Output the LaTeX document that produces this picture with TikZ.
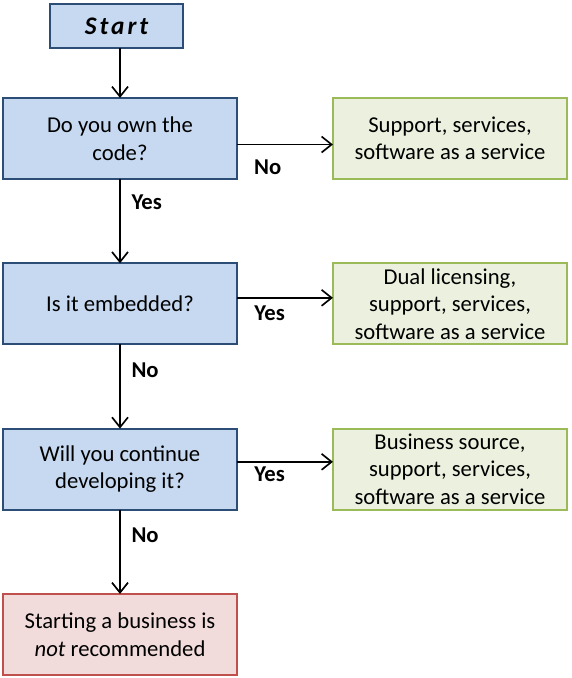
\documentclass[tikz,border=0pt]{standalone}
\usepackage{fontspec}
\setmainfont{Carlito}
\usepackage{tikz}
\usetikzlibrary{arrows.meta,positioning}

\definecolor{qfill}{HTML}{C6D9F1}
\definecolor{qdraw}{HTML}{2C4D75}
\definecolor{afill}{HTML}{EBF1DE}
\definecolor{adraw}{HTML}{9BBB59}
\definecolor{nfill}{HTML}{F2DCDB}
\definecolor{ndraw}{HTML}{C0504D}

\begin{document}
\begin{tikzpicture}[
  node distance=63.15pt and 71.9pt,
  every node/.style={font=\fontsize{17pt}{20.6pt}\selectfont},
  box/.style={line width=1.4pt,align=center,minimum width=175.6pt,minimum height=60.85pt,inner sep=0pt,outer sep=0pt},
  question/.style={box,draw=qdraw,fill=qfill},
  answer/.style={box,draw=adraw,fill=afill},
  stopnode/.style={box,draw=ndraw,fill=nfill},
  startnode/.style={draw=qdraw,fill=qfill,line width=1.4pt,minimum width=100pt,minimum height=33pt,inner sep=0pt,outer sep=0pt,
    font=\fontsize{19pt}{22pt}\selectfont\bfseries\itshape\addfontfeature{LetterSpace=12}},
  arr/.style={-{Straight Barb[length=7.5pt,width=12pt]},line width=1.25pt},
  lbl/.style={font=\fontsize{17pt}{18pt}\selectfont\bfseries,inner sep=0pt}
]
  \useasboundingbox (0,0) rectangle (428.25pt,-508.5pt);

  \node[question] (own) at (90pt,-103.875pt) {Do you own the\\code?};
  \node[startnode,above=37.4pt of own,xshift=-2.6pt] (start) {Start};
  \node[answer,right=of own] (saas) {Support, services,\\software as a service};

  \node[question,below=of own] (embedded) {Is it embedded?};
  \node[answer,right=of embedded] (dual) {Dual licensing,\\support, services,\\software as a service};

  \node[question,below=of embedded] (develop) {Will you continue\\developing it?};
  \node[answer,right=of develop] (bsource) {Business source,\\support, services,\\software as a service};

  \node[stopnode,below=of develop] (stop) {Starting a business is\\\textit{not} recommended};

  \draw[arr] (start.south -| own.north) -- (own.north);
  \draw[arr] ([yshift=-4.5pt]own.east) -- node[lbl,pos=0.32,below=11pt]{No} ([yshift=-4.5pt]saas.west);
  \draw[arr] (own) -- node[lbl,pos=0.27,right=8pt]{Yes} (embedded);
  \draw[arr] ([yshift=4.5pt]embedded.east) -- node[lbl,pos=0.34,below=5pt]{Yes} ([yshift=4.5pt]dual.west);
  \draw[arr] (embedded) -- node[lbl,pos=0.31,right=8pt]{No} (develop);
  \draw[arr] ([yshift=5.5pt]develop.east) -- node[lbl,pos=0.34,below=3pt]{Yes} ([yshift=5.5pt]bsource.west);
  \draw[arr] (develop) -- node[lbl,pos=0.30,right=8pt]{No} (stop);
\end{tikzpicture}
\end{document}
